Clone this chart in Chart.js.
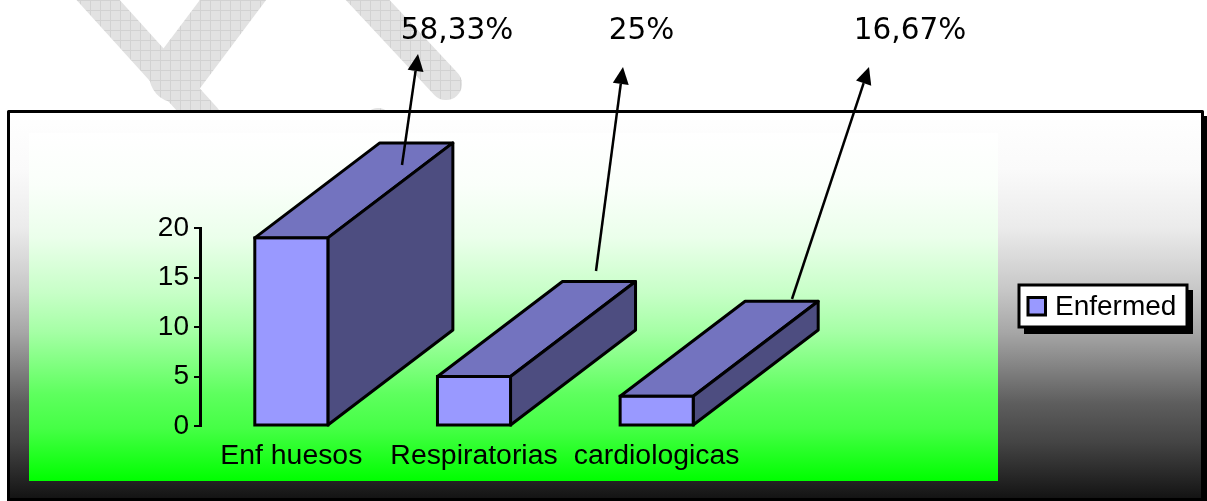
<!DOCTYPE html>
<html>
<head>
<meta charset="utf-8">
<title>Enfermed</title>
<script src="https://cdn.jsdelivr.net/npm/chart.js@4/dist/chart.umd.min.js"></script>
<style>
    html, body { margin: 0; padding: 0; background: #fff; }
    canvas { display: block; }
</style>
</head>
<body>
<canvas id="chart" width="1207" height="501"></canvas>
<script>
var categories = ["Enf huesos", "Respiratorias", "cardiologicas"];
var enfermedValues = [19, 5, 3];
var percentLabels = ["58,33%", "25%", "16,67%"];
var yTicks = [0, 5, 10, 15, 20];

var seriesName = "Enfermed";
var textFont = '"Liberation Sans", Arial, sans-serif';
var labelFont = '"DejaVu Sans", sans-serif';

// greys of the office style gradient, top to bottom
var gradientStops = [[0, 1], [0.15, 0.98], [0.3, 0.92], [0.46, 0.78], [0.57, 0.65], [0.75, 0.37], [0.85, 0.27]];

// label centres and arrows: tail x, tail y, head x, head y
var percentCentres = [457, 641.5, 910];
var arrows = [
    [402, 165, 418, 54],
    [596, 271, 623, 67],
    [792, 299, 869, 67]
];

function verticalGradient(ctx, top, bottom, colorAt, endLevel) {
    var g = ctx.createLinearGradient(0, top, 0, bottom);
    gradientStops.forEach(function (s) {
        g.addColorStop(s[0], colorAt(s[1]));
    });
    g.addColorStop(1, colorAt(endLevel));
    return g;
}

function grey(level) {
    var v = Math.round(level * 255);
    return "rgb(" + v + "," + v + "," + v + ")";
}

function green(level) {
    var v = Math.round(level * 255);
    return "rgb(" + v + ",255," + v + ")";
}

function hatchPattern(ctx) {
    var cell = document.createElement("canvas");
    cell.width = 10;
    cell.height = 10;
    var c = cell.getContext("2d");
    c.fillStyle = "#e2e2e2";
    c.fillRect(0, 0, 10, 10);
    c.fillStyle = "#d2d2d2";
    c.fillRect(0, 0, 10, 1);
    c.fillRect(0, 0, 1, 10);
    return ctx.createPattern(cell, "repeat");
}

function strokeWatermark(ctx, points, width) {
    ctx.beginPath();
    ctx.moveTo(points[0][0], points[0][1]);
    for (var i = 1; i < points.length; i++) {
        ctx.lineTo(points[i][0], points[i][1]);
    }
    ctx.lineWidth = width;
    ctx.stroke();
}

var backdrop = {
    id: "backdrop",
    beforeDraw: function (chart) {
        var ctx = chart.ctx;
        ctx.save();
        ctx.fillStyle = "#fff";
        ctx.fillRect(0, 0, 1207, 501);

        // watermark behind the frame
        ctx.strokeStyle = hatchPattern(ctx);
        ctx.lineCap = "round";
        ctx.lineJoin = "round";
        strokeWatermark(ctx, [[80, -20], [205, 118]], 32);
        strokeWatermark(ctx, [[248, -20], [176, 76]], 53);
        strokeWatermark(ctx, [[349, -20], [446, 84]], 32);
        strokeWatermark(ctx, [[378, 122], [378, 123]], 28);

        // frame with its shadow
        ctx.fillStyle = "#000";
        ctx.fillRect(7, 116, 1200, 385);
        ctx.fillStyle = verticalGradient(ctx, 111, 500, grey, 0.07);
        ctx.fillRect(9, 112, 1193, 387);
        ctx.strokeStyle = "#000";
        ctx.lineWidth = 3;
        ctx.lineCap = "butt";
        ctx.strokeRect(8.5, 111.5, 1194, 388);

        // plot wall
        ctx.fillStyle = verticalGradient(ctx, 133, 481, green, 0);
        ctx.fillRect(29, 133, 969, 348);
        ctx.restore();
    }
};

// side and top faces go under the bars, outlines over them
var bars3d = {
    id: "bars3d",
    beforeDatasetsDraw: function (chart) {
        var ctx = chart.ctx;
        var dx = 125, dy = -95;
        ctx.save();
        ctx.strokeStyle = "#000";
        ctx.lineWidth = 3;
        ctx.lineJoin = "round";
        chart.getDatasetMeta(0).data.forEach(function (bar) {
            var left = bar.x - bar.width / 2;
            var right = bar.x + bar.width / 2;

            ctx.fillStyle = "#7373BF";
            ctx.beginPath();
            ctx.moveTo(left, bar.y);
            ctx.lineTo(left + dx, bar.y + dy);
            ctx.lineTo(right + dx, bar.y + dy);
            ctx.lineTo(right, bar.y);
            ctx.closePath();
            ctx.fill();
            ctx.stroke();

            ctx.fillStyle = "#4D4D80";
            ctx.beginPath();
            ctx.moveTo(right, bar.y);
            ctx.lineTo(right + dx, bar.y + dy);
            ctx.lineTo(right + dx, bar.base + dy);
            ctx.lineTo(right, bar.base);
            ctx.closePath();
            ctx.fill();
            ctx.stroke();
        });
        ctx.restore();
    },
    afterDatasetsDraw: function (chart) {
        var ctx = chart.ctx;
        ctx.save();
        ctx.strokeStyle = "#000";
        ctx.lineWidth = 3;
        chart.getDatasetMeta(0).data.forEach(function (bar) {
            ctx.strokeRect(bar.x - bar.width / 2, bar.y, bar.width, bar.base - bar.y);
        });
        ctx.restore();
    }
};

var annotations = {
    id: "annotations",
    afterDraw: function (chart) {
        var ctx = chart.ctx;
        ctx.save();

        // percent labels and arrows
        ctx.fillStyle = "#000";
        ctx.font = "29.5px " + labelFont;
        ctx.textAlign = "center";
        ctx.textBaseline = "middle";
        percentLabels.forEach(function (text, i) {
            ctx.fillText(text, percentCentres[i], 31);
        });
        ctx.strokeStyle = "#000";
        ctx.lineWidth = 2.5;
        arrows.forEach(function (a) {
            var angle = Math.atan2(a[3] - a[1], a[2] - a[0]);
            var headLen = 17, headHalf = 8;
            var backX = a[2] - headLen * Math.cos(angle);
            var backY = a[3] - headLen * Math.sin(angle);
            ctx.beginPath();
            ctx.moveTo(a[0], a[1]);
            ctx.lineTo(backX, backY);
            ctx.stroke();
            ctx.beginPath();
            ctx.moveTo(a[2], a[3]);
            ctx.lineTo(backX - headHalf * Math.sin(angle), backY + headHalf * Math.cos(angle));
            ctx.lineTo(backX + headHalf * Math.sin(angle), backY - headHalf * Math.cos(angle));
            ctx.closePath();
            ctx.fill();
        });

        // legend box
        ctx.fillStyle = "#000";
        ctx.fillRect(1024, 290, 169, 44);
        ctx.fillStyle = "#fff";
        ctx.fillRect(1019, 285, 168, 42);
        ctx.lineWidth = 3;
        ctx.strokeRect(1019, 285, 168, 42);
        ctx.fillStyle = "#9999FF";
        ctx.fillRect(1028, 297.5, 17.5, 17.5);
        ctx.strokeRect(1028, 297.5, 17.5, 17.5);
        ctx.fillStyle = "#000";
        ctx.font = "28px " + textFont;
        ctx.textAlign = "left";
        ctx.textBaseline = "middle";
        ctx.fillText(chart.data.datasets[0].label, 1055, 307);
        ctx.restore();
    }
};

new Chart(document.getElementById("chart"), {
    type: "bar",
    data: {
        labels: categories,
        datasets: [
            {
                label: seriesName,
                data: enfermedValues,
                backgroundColor: "#9999FF",
                borderWidth: 0,
                categoryPercentage: 1,
                barPercentage: 0.4
            }
        ]
    },
    options: {
        responsive: false,
        animation: false,
        layout: { padding: { left: 0, top: 228, right: 459, bottom: 0 } },
        plugins: {
            legend: { display: false },
            tooltip: { enabled: false }
        },
        scales: {
            x: {
                afterFit: function (scale) { scale.height = 75; },
                grid: { display: false },
                border: { display: false },
                ticks: {
                    autoSkip: false,
                    maxRotation: 0,
                    color: "#000",
                    padding: 5,
                    font: { family: textFont, size: 28.4 }
                }
            },
            y: {
                min: 0,
                max: 20,
                afterFit: function (scale) { scale.width = 200; },
                afterBuildTicks: function (scale) {
                    scale.ticks = yTicks.map(function (v) { return { value: v }; });
                },
                grid: { drawOnChartArea: false, color: "#000", lineWidth: 2, tickLength: 6 },
                border: { color: "#000", width: 3 },
                ticks: {
                    color: "#000",
                    padding: 5,
                    font: { family: textFont, size: 28 }
                }
            }
        }
    },
    plugins: [backdrop, bars3d, annotations]
});
</script>
</body>
</html>
